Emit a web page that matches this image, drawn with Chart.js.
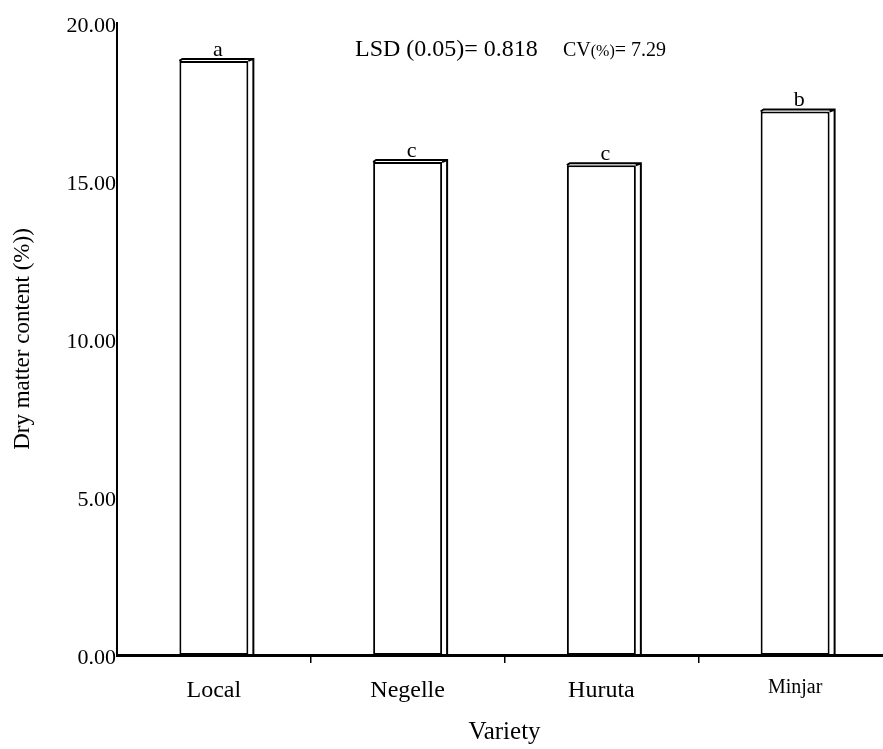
<!DOCTYPE html>
<html>
<head>
<meta charset="utf-8">
<script src="https://cdn.jsdelivr.net/npm/chart.js@4.4.0/dist/chart.umd.min.js"></script>
<style>
  html, body { margin: 0; padding: 0; background: #fff; overflow: hidden; }
  #wrap { width: 900px; height: 749px; }
</style>
</head>
<body>
<div id="wrap"><canvas id="myChart" width="900" height="749"></canvas></div>
<script>
// data
const variedades = ['Local', 'Negelle', 'Huruta', 'Minjar'];
const materiaSeca = [18.8, 15.6, 15.5, 17.2];
const letras = ['a', 'c', 'c', 'b'];
const ticksY = [0, 5, 10, 15, 20];

const serif = "'Liberation Serif', 'Times New Roman', serif";

// 3D edge on bars + letters + notes
const barras3d = {
  id: 'barras3d',
  afterDatasetsDraw(chart) {
    const c = chart.ctx;
    const meta = chart.getDatasetMeta(0);
    c.save();
    c.strokeStyle = '#000';
    c.lineWidth = 2;
    meta.data.forEach((bar, i) => {
      const p = bar.getProps(['x', 'y', 'base', 'width'], true);
      const l = p.x - p.width / 2, r = p.x + p.width / 2, t = p.y;
      const d = 5, dy = 2;
      c.beginPath();
      c.moveTo(l, t);
      c.lineTo(l + 3, t - dy);
      c.lineTo(r + d, t - dy);
      c.lineTo(r + d, p.base);
      c.moveTo(r, t);
      c.lineTo(r + d, t - dy);
      c.stroke();
      // letters
      c.fillStyle = '#000';
      c.font = '22px ' + serif;
      c.textAlign = 'center';
      c.textBaseline = 'alphabetic';
      c.fillText(letras[i], p.x + 4, t - 5);
    });

    // LSD / CV
    c.textAlign = 'left';
    c.font = '24px ' + serif;
    c.fillText('LSD (0.05)= 0.818', 355, 56);
    let x = 563;
    c.font = '20px ' + serif;
    c.fillText('CV', x, 56);
    x += c.measureText('CV').width;
    c.font = '16px ' + serif;
    c.fillText('(%)', x, 56);
    x += c.measureText('(%)').width;
    c.font = '20px ' + serif;
    c.fillText('= 7.29', x, 56);
    c.restore();
  }
};

new Chart(document.getElementById('myChart'), {
  type: 'bar',
  data: {
    labels: variedades,
    datasets: [{
      data: materiaSeca,
      backgroundColor: '#ffffff',
      borderColor: '#000000',
      borderWidth: 2,
      borderSkipped: false,
      categoryPercentage: 1,
      barPercentage: 0.356
    }]
  },
  options: {
    responsive: false,
    animation: false,
    devicePixelRatio: 1,
    layout: { padding: { top: 23, right: 8, left: 0, bottom: 0 } },
    plugins: {
      legend: { display: false },
      tooltip: { enabled: false }
    },
    scales: {
      x: {
        afterFit(scale) { scale.height = 94; },
        border: { display: true, color: '#000', width: 3 },
        grid: {
          display: true,
          offset: true,
          drawOnChartArea: false,
          drawTicks: true,
          tickLength: 8,
          lineWidth: 1.5,
          color: ctx => (ctx.index > 0 ? '#000' : 'rgba(0,0,0,0)')
        },
        ticks: {
          color: '#000',
          padding: 13,
          font: ctx => ({ family: serif, size: ctx.index === 3 ? 20 : 24 })
        },
        title: {
          display: true,
          text: 'Variety',
          color: '#000',
          font: { family: serif, size: 25 },
          padding: { top: 0, bottom: 2 }
        }
      },
      y: {
        min: 0,
        max: 20,
        afterFit(scale) { scale.width = 117; },
        afterBuildTicks(scale) { scale.ticks = ticksY.map(v => ({ value: v })); },
        border: { display: true, color: '#000', width: 2 },
        grid: { display: false, drawTicks: false },
        ticks: {
          color: '#000',
          padding: 1,
          labelOffset: 3,
          font: { family: serif, size: 22 },
          callback: v => Number(v).toFixed(2)
        },
        title: {
          display: true,
          text: 'Dry matter content (%))',
          color: '#000',
          font: { family: serif, size: 23 },
          padding: { top: 9, bottom: 0 }
        }
      }
    }
  },
  plugins: [barras3d]
});
</script>
</body>
</html>
